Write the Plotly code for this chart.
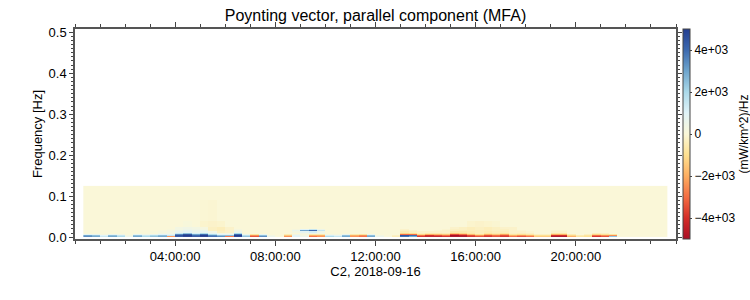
import numpy as np
import pandas as pd
import plotly.graph_objects as go

# ---- time bins (20-min spectrogram columns) and frequency bins ----
times = pd.date_range("2018-09-16 00:30", periods=70, freq="20min")
n_freq = 50
freq_step = 0.0025
freq_centers = [freq_step * (i + 0.5) for i in range(n_freq)]

# ---- values, (mW/km^2)/Hz ----
p0 = [3500, 3000, 1500, 3000, 2000, 500, 3000, 2000, 2500, 3000,
      -2500, 4500, 5000, 4500, 5000, 4000, 3500, -3000, 5000, 2500,
      -3500, 3500, 500, 0, -2500, 1000, 500, -3000, -2500, 2000,
      1500, 3000, -2500, -3000, 3000, 500, 0, -500, 4000, 3000,
      -4000, -4500, -4500, -4000, -5000, -5000, -4000, -3500, -4000, -3500,
      -4000, -3000, -3500, -3000, -1500, -1500, -5000, -5000, -2000, -800,
      -1000, -4000, -3500, 2500, 0, 0, 0, 0, 0, 0]
p1 = [3000, 2500, 1000, 2500, 1500, 300, 2500, 1500, 2000, 2500,
      1500, 4500, 5000, 4000, 5000, 3500, 2500, 2500, 5000, 1800,
      -2500, 2500, 300, 0, -1500, 800, 300, -2000, -2000, 1200,
      800, 2500, -2000, -2500, 2500, 300, 0, -300, 4500, 4000,
      -3000, -4000, -3500, -3000, -5000, -4500, -3500, -2500, -3500, -3000,
      -3500, -2000, -2500, -2000, -1000, -1000, -4000, -4000, -1200, -500,
      -800, -3000, -2500, -2500, 0, 0, 0, 0, 0, 0]
p2 = [800, 700, 200, 700, 400, 0, 800, 400, 700, 1000,
      800, 3500, 4500, 3000, 4000, 2000, 900, 800, 4000, 600,
      -800, 800, 0, 0, -500, 400, 200, -600, -600, 300,
      200, 700, -600, -800, 700, 0, 0, 0, -3000, -3000,
      -1200, -2000, -1800, -1500, -3500, -3000, -1800, -1000, -2000, -1500,
      -2200, -800, -1000, -700, -300, -300, -2000, -2000, -500, 0,
      -300, -1200, -900, -800, 0, 0, 0, 0, 0, 0]
p3 = [0, 0, 0, 0, 0, 0, 0, 0, 0, 300,
      300, 1500, 2500, 1200, 2000, 800, 300, 300, 2000, 0,
      0, 0, 0, 0, 0, 0, 300, 500, 300, 0,
      0, 0, 0, 0, 0, 0, 0, 0, -1200, -1000,
      -400, -600, -600, -500, -1500, -1200, -700, -400, -800, -600,
      -800, -300, -400, -300, 0, 0, -700, -700, 0, 0,
      0, -400, -300, 0, 0, 0, 0, 0, 0, 0]
haze_low = [0, 0, 0, 0, 0, 0, 0, 0, 100, 200,
            300, 700, 900, 600, 800, 400, -300, -200, 600, 0,
            0, 0, 0, 0, 0, 300, 800, 1200, 500, 0,
            0, 0, 0, 0, 0, 0, 0, 0, -500, -300,
            -200, -200, -200, -200, -600, -600, -500, -400, -500, -400,
            -400, -200, -200, -100, 0, 0, -200, -200, 0, 0,
            0, 0, 0, 0, 0, 0, 0, 0, 0, 0]
row6 = [0, 0, 0, 0, 0, 0, 0, 0, 0, 100,
        200, 500, 700, 500, 600, -300, -400, -200, 300, 0,
        0, 0, 0, 0, 0, 600, 3000, 4000, 1500, 0,
        0, 0, 0, 0, 0, 0, 0, 0, -300, -200,
        0, 0, -100, -200, -300, -400, -400, -400, -400, -300,
        -300, -200, -100, 0, 0, 0, -100, -100, 0, 0,
        0, 0, 0, 0, 0, 0, 0, 0, 0, 0]
row7 = [0, 0, 0, 0, 0, 0, 0, 0, 0, 0,
        100, 300, 500, 400, 300, -300, -400, -200, 200, 0,
        0, 0, 0, 0, 0, 200, 1000, 1500, 500, 0,
        0, 0, 0, 0, 0, 0, 0, 0, -200, 0,
        0, 0, 0, -100, -300, -300, -400, -300, -400, -300,
        -300, -200, 0, 0, 0, 0, 0, 0, 0, 0,
        0, 0, 0, 0, 0, 0, 0, 0, 0, 0]
haze_mid = [0, 0, 0, 0, 0, 0, 0, 0, 0, 0,
            0, 300, 400, 300, 200, -300, -400, -200, 0, 0,
            0, 0, 0, 0, 0, 0, 0, 0, 0, 0,
            0, 0, 0, 0, 0, 0, 0, 0, 0, 0,
            0, 0, 0, 0, -200, -300, -400, -300, -400, -300,
            -200, -200, 0, 0, 0, 0, 0, 0, 0, 0,
            0, 0, 0, 0, 0, 0, 0, 0, 0, 0]
haze_high = [0, 0, 0, 0, 0, 0, 0, 0, 0, 0,
             0, 0, 100, 0, -150, -200, -150, 0, 0, 0,
             0, 0, 0, 0, 0, 0, 0, 0, 0, 0,
             0, 0, 0, 0, 0, 0, 0, 0, 0, 0,
             0, 0, 0, 0, 0, 0, -150, -200, -150, -100,
             0, 0, 0, 0, 0, 0, 0, 0, 0, 0,
             0, 0, 0, 0, 0, 0, 0, 0, 0, 0]
haze_top = [0, 0, 0, 0, 0, 0, 0, 0, 0, 0,
            0, 0, 0, 0, -60, -80, 0, 0, 0, 0,
            0, 0, 0, 0, 0, 0, 0, 0, 0, 0,
            0, 0, 0, 0, 0, 0, 0, 0, 0, 0,
            0, 0, 0, 0, 0, 0, 0, 0, 0, 0,
            0, 0, 0, 0, 0, 0, 0, 0, 0, 0,
            0, 0, 0, 0, 0, 0, 0, 0, 0, 0]

x_tick_vals = ["2018-09-16 04:00", "2018-09-16 08:00", "2018-09-16 12:00",
               "2018-09-16 16:00", "2018-09-16 20:00"]
x_tick_text = ["04:00:00", "08:00:00", "12:00:00", "16:00:00", "20:00:00"]
y_tick_vals = [0.0, 0.1, 0.2, 0.3, 0.4, 0.5]
y_tick_text = ["0.0", "0.1", "0.2", "0.3", "0.4", "0.5"]
cb_tick_vals = [-4000, -2000, 0, 2000, 4000]
cb_tick_text = ["\u22124e+03", "\u22122e+03", "0", "2e+03", "4e+03"]

Z = np.zeros((n_freq, len(times)))
Z[0] = p0
Z[1] = p1
Z[2] = p2
Z[3] = p3
Z[4] = haze_low
Z[5] = haze_low
Z[6] = row6
Z[7] = row7
Z[8] = haze_mid
Z[9] = haze_mid
for r in range(10, 16):
    Z[r] = haze_high
for r in range(16, 36):
    Z[r] = haze_top

colorscale = [
    [0.0, "rgb(170,15,38)"],
    [0.1, "rgb(212,45,40)"],
    [0.2, "rgb(244,109,67)"],
    [0.3, "rgb(253,174,97)"],
    [0.4, "rgb(254,224,144)"],
    [0.5, "rgb(250,247,216)"],
    [0.6, "rgb(224,243,248)"],
    [0.7, "rgb(171,217,233)"],
    [0.8, "rgb(110,165,205)"],
    [0.9, "rgb(60,105,175)"],
    [1.0, "rgb(35,62,145)"],
]

fig = go.Figure(go.Heatmap(
    x=times, y=freq_centers, z=Z,
    zmin=-5000, zmax=5000, colorscale=colorscale,
    colorbar=dict(
        x=1.0116, xanchor="left", xpad=0, y=0.5, yanchor="middle", ypad=0,
        len=1, lenmode="fraction", thickness=7,
        outlinewidth=1, outlinecolor="#444",
        tickvals=cb_tick_vals, ticktext=cb_tick_text,
        ticks="outside", ticklen=2, tickcolor="#444",
        tickfont=dict(size=12, color="black"),
        title=dict(text="(mW/km^2)/Hz", side="right", font=dict(size=12, color="black")),
    ),
))

axis_common = dict(showline=True, linecolor="#555", linewidth=1.5, mirror="ticks",
                   ticks="outside", tickcolor="#444", showgrid=False, zeroline=False)

fig.update_layout(
    width=750, height=300,
    margin=dict(l=75, r=74, t=29, b=61, autoexpand=False),
    plot_bgcolor="white", paper_bgcolor="white",
    font=dict(family="Liberation Sans, Arial, sans-serif", size=13, color="black"),
    title=dict(text="Poynting vector, parallel component (MFA)", x=0.5, xanchor="center",
               xref="paper", y=0.95, yanchor="middle", yref="container",
               font=dict(size=16, color="black")),
    xaxis=dict(**axis_common, type="date",
               range=["2018-09-16 00:00", "2018-09-17 00:00"],
               tickvals=x_tick_vals, ticktext=x_tick_text, ticklen=5,
               minor=dict(dtick=3600000, ticklen=3, ticks="outside", tickcolor="#444"),
               title=dict(text="C2, 2018-09-16", standoff=0, font=dict(size=13))),
    yaxis=dict(**axis_common, range=[-0.0045, 0.508],
               tickvals=y_tick_vals, ticktext=y_tick_text, ticklen=4,
               minor=dict(dtick=0.01, ticklen=2, ticks="outside", tickcolor="#444"),
               title=dict(text="Frequency [Hz]", standoff=3, font=dict(size=13))),
)

fig.write_html("out.html")
